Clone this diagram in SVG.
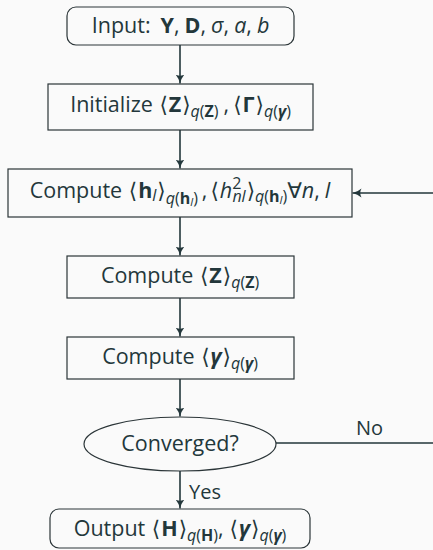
<svg xmlns="http://www.w3.org/2000/svg" width="433" height="550" viewBox="0 0 433 550">
<defs>
<style>
.bg{fill:#fafafa}
.box{fill:none;stroke:#2b3538;stroke-width:1.2}
.conn{fill:none;stroke:#23373b;stroke-width:1.6}
text{font-family:"Open Sans","DejaVu Sans",sans-serif;font-size:21.5px;fill:#23373b}
.t{text-anchor:middle}
.b{font-weight:bold}
.i{font-style:italic}
.s{font-size:16px}
.ss{font-size:11.5px}
.lbl{font-size:20px}
</style>
<marker id="ah" viewBox="0 0 10 10" refX="9" refY="5" markerWidth="10" markerHeight="10" markerUnits="userSpaceOnUse" orient="auto">
<path d="M0,0.5 Q4,4 9,5 Q4,6 0,9.5 Q2.5,5 0,0.5 Z" fill="#23373b"/>
</marker>
</defs>
<rect class="bg" x="0" y="0" width="433" height="550"/>
<g id="connectors">
<line class="conn" x1="180" y1="45" x2="180" y2="83.5" marker-end="url(#ah)"/>
<line class="conn" x1="180" y1="130" x2="180" y2="168.5" marker-end="url(#ah)"/>
<line class="conn" x1="180" y1="217" x2="180" y2="255.5" marker-end="url(#ah)"/>
<line class="conn" x1="180" y1="298" x2="180" y2="336.5" marker-end="url(#ah)"/>
<line class="conn" x1="180" y1="379" x2="180" y2="416.5" marker-end="url(#ah)"/>
<line class="conn" x1="180" y1="471" x2="180" y2="508.5" marker-end="url(#ah)"/>
<path class="conn" d="M276,443 H445 V193 H352.5" marker-end="url(#ah)"/>
<text class="lbl" x="356" y="435">No</text>
<text class="lbl" x="189" y="499">Yes</text>
</g>
<g id="input">
<rect class="box" x="67" y="7" width="227" height="38" rx="9"/>
<text class="t" x="180.5" y="33">Input:<tspan class="b" dx="10">Y</tspan>,<tspan class="b" dx="5">D</tspan>,<tspan class="i" dx="5">σ</tspan>,<tspan class="i" dx="5">a</tspan>,<tspan class="i" dx="5">b</tspan></text>
</g>
<g id="initialize">
<rect class="box" x="48" y="84" width="265" height="46"/>
<text class="t" x="180.5" y="112">Initialize <tspan dx="1">⟨</tspan><tspan class="b" dx="1">Z</tspan><tspan dx="1">⟩</tspan><tspan class="s i" dy="5">q</tspan><tspan class="s">(</tspan><tspan class="s b">Z</tspan><tspan class="s">)</tspan><tspan dy="-5" dx="5">,</tspan><tspan dx="4">⟨</tspan><tspan class="b" dx="1">Γ</tspan><tspan dx="1">⟩</tspan><tspan class="s i" dy="5">q</tspan><tspan class="s">(</tspan><tspan class="s i b">γ</tspan><tspan class="s">)</tspan></text>
</g>
<g id="compute-h">
<rect class="box" x="8" y="169" width="344" height="48"/>
<text class="t" x="180" y="198">Compute <tspan dx="1">⟨</tspan><tspan class="b" dx="1">h</tspan><tspan class="s i" dy="3">l</tspan><tspan dy="-3" dx="1">⟩</tspan><tspan class="s i" dy="6">q</tspan><tspan class="s">(</tspan><tspan class="s b">h</tspan><tspan class="ss i" dy="2">l</tspan><tspan class="s" dy="-2">)</tspan><tspan dy="-6" dx="4">,</tspan><tspan dx="3">⟨</tspan><tspan class="i" dx="1">h</tspan><tspan class="s" dy="-9">2</tspan><tspan class="s i" dx="-9" dy="13">nl</tspan><tspan dy="-4" dx="1">⟩</tspan><tspan class="s i" dy="4">q</tspan><tspan class="s">(</tspan><tspan class="s b">h</tspan><tspan class="ss i" dy="2">l</tspan><tspan class="s" dy="-2">)</tspan><tspan dy="-4">∀</tspan><tspan class="i">n</tspan>,<tspan class="i" dx="5">l</tspan></text>
</g>
<g id="compute-z">
<rect class="box" x="67" y="256" width="227" height="42"/>
<text class="t" x="180" y="283">Compute <tspan dx="1">⟨</tspan><tspan class="b" dx="1">Z</tspan><tspan dx="1">⟩</tspan><tspan class="s i" dy="5">q</tspan><tspan class="s">(</tspan><tspan class="s b">Z</tspan><tspan class="s">)</tspan></text>
</g>
<g id="compute-gamma">
<rect class="box" x="67" y="337" width="227" height="42"/>
<text class="t" x="180" y="364">Compute <tspan dx="1">⟨</tspan><tspan class="b i" dx="1">γ</tspan><tspan dx="1">⟩</tspan><tspan class="s i" dy="5">q</tspan><tspan class="s">(</tspan><tspan class="s b i">γ</tspan><tspan class="s">)</tspan></text>
</g>
<g id="converged">
<ellipse class="box" cx="180" cy="444" rx="96" ry="27"/>
<text class="t" x="180" y="451">Converged?</text>
</g>
<g id="output">
<rect class="box" x="50" y="509" width="260" height="39" rx="9"/>
<text class="t" x="180" y="536">Output <tspan dx="1">⟨</tspan><tspan class="b" dx="1">H</tspan><tspan dx="1">⟩</tspan><tspan class="s i" dy="5">q</tspan><tspan class="s">(</tspan><tspan class="s b">H</tspan><tspan class="s">)</tspan><tspan dy="-5">,</tspan><tspan dx="6">⟨</tspan><tspan class="b i" dx="1">γ</tspan><tspan dx="1">⟩</tspan><tspan class="s i" dy="5">q</tspan><tspan class="s">(</tspan><tspan class="s b i">γ</tspan><tspan class="s">)</tspan></text>
</g>
</svg>
